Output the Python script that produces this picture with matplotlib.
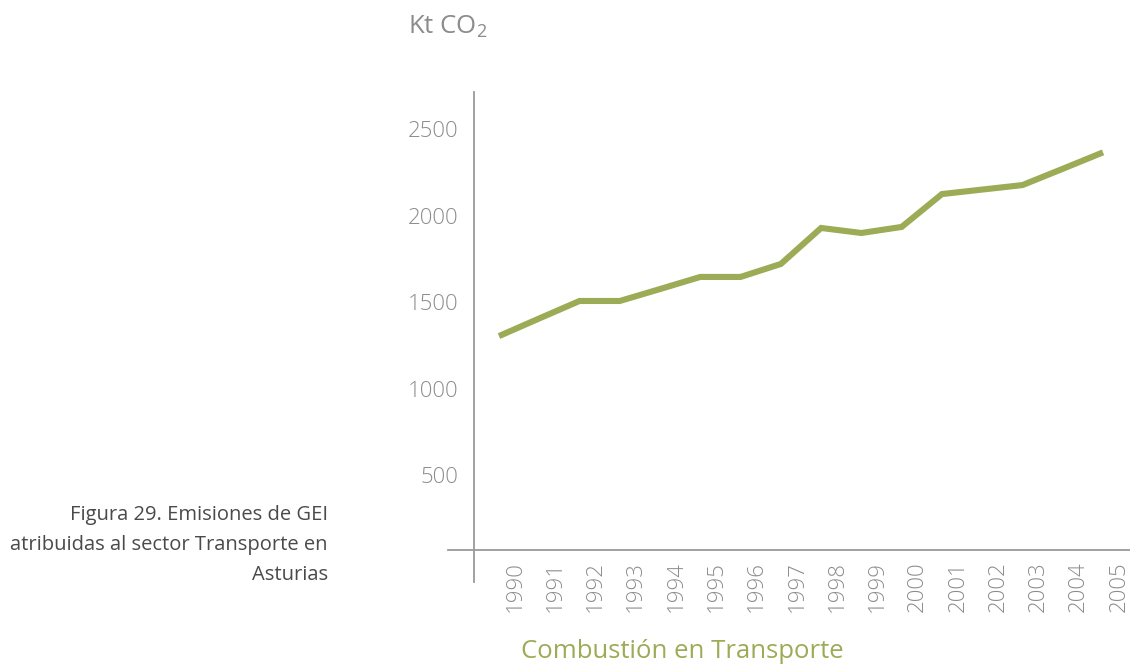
import matplotlib
matplotlib.use("Agg")
import matplotlib.pyplot as plt
from matplotlib.lines import Line2D
from matplotlib.transforms import ScaledTranslation

years = [1990, 1991, 1992, 1993, 1994, 1995, 1996, 1997, 1998, 1999, 2000, 2001, 2002, 2003, 2004, 2005]
emissions = [1303, 1405, 1506, 1506, 1575, 1645, 1645, 1720, 1928, 1899, 1934, 2124, 2150, 2176, 2270, 2365]
yticks = [500, 1000, 1500, 2000, 2500]
series_name = "Combustión en Transporte"
caption_lines = ["Figura 29. Emisiones de GEI", "atribuidas al sector Transporte en", "Asturias"]

FONT = 'Open Sans'
plt.rcParams['font.family'] = [FONT, 'DejaVu Sans']
plt.rcParams['mathtext.fontset'] = 'custom'
plt.rcParams['mathtext.rm'] = FONT
plt.rcParams['mathtext.it'] = FONT

W, H = 1130, 664
fig = plt.figure(figsize=(W / 100, H / 100), dpi=100)
ax = fig.add_axes([474 / W, (H - 550) / H, (W - 474) / W, (550 - 92) / H])

line_color = '#9cab56'
gray = '#8c8c8c'
ax.plot(years, emissions, color=line_color, lw=4.4, solid_joinstyle='miter', solid_capstyle='butt')

ax.set_xlim(1989.38, 2005.67)
ax.set_ylim(66.5, 2714)
for s in ax.spines.values():
    s.set_visible(False)
ax.set_yticks(yticks)
ax.set_yticklabels([str(v) for v in yticks])
ax.set_xticks(years)
ax.set_xticklabels([str(y) for y in years], rotation=90, va='top', ha='center')
ax.tick_params(axis='y', length=0, pad=11.5, labelsize=16, labelcolor=gray)
ax.tick_params(axis='x', length=0, pad=8, labelsize=16, labelcolor=gray)
off = ScaledTranslation(16 / 100, 0, fig.dpi_scale_trans)
for lab in ax.get_xticklabels():
    lab.set_transform(lab.get_transform() + off)
for lab in ax.get_xticklabels() + ax.get_yticklabels():
    lab.set_fontweight('light')

# axis lines (crossing)
fig.add_artist(Line2D([474 / W, 474 / W], [1 - 92 / H, 1 - 582 / H], color='#9a9a9a', lw=1.3, transform=fig.transFigure))
fig.add_artist(Line2D([448 / W, 1.0], [1 - 550 / H, 1 - 550 / H], color='#9a9a9a', lw=1.3, transform=fig.transFigure))

fig.text(408 / W, 1 - 34 / H, r"Kt CO$_2$", fontsize=18.5, color=gray, ha='left', va='baseline')
fig.text(682 / W, 1 - 658 / H, series_name, fontsize=18.5, color=line_color, ha='center', va='baseline')
for i, line in enumerate(caption_lines):
    fig.text(328 / W, 1 - (520 + 30 * i) / H, line, fontsize=14.5, color='#4a4a4a',
             ha='right', va='baseline')

fig.savefig('out.png', dpi=100)
